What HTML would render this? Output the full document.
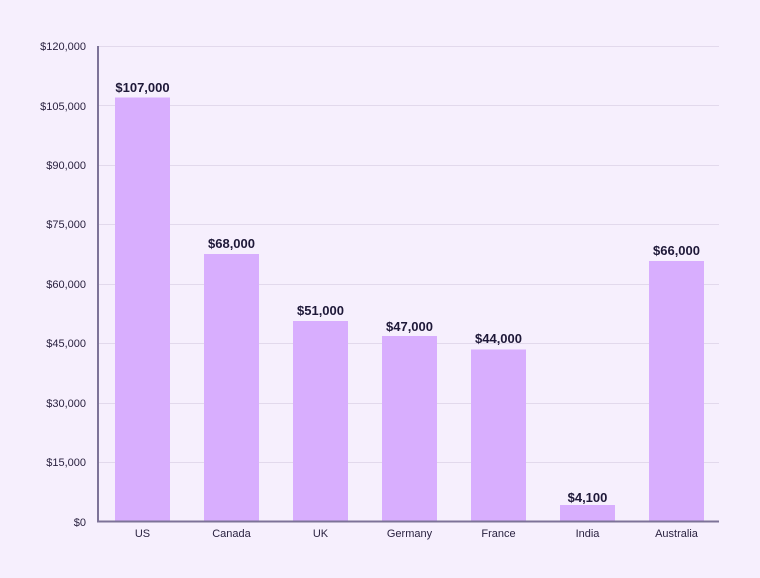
<!DOCTYPE html>
<html><head><style>body{margin:0;background:#f6effd}svg{display:block}</style></head><body>
<svg width="760" height="578" xmlns="http://www.w3.org/2000/svg" font-family="Liberation Sans, sans-serif">
<rect width="760" height="578" fill="#f6effd"/>
<g stroke="#e2d9ec" stroke-width="1">
<line x1="98" x2="719" y1="46.5" y2="46.5"/><line x1="98" x2="719" y1="105.5" y2="105.5"/><line x1="98" x2="719" y1="165.5" y2="165.5"/><line x1="98" x2="719" y1="224.5" y2="224.5"/><line x1="98" x2="719" y1="284.5" y2="284.5"/><line x1="98" x2="719" y1="343.5" y2="343.5"/><line x1="98" x2="719" y1="403.5" y2="403.5"/><line x1="98" x2="719" y1="462.5" y2="462.5"/>
</g>
<g font-size="11" fill="#2a2240" text-anchor="end">
<text x="86" y="50">$120,000</text><text x="86" y="110">$105,000</text><text x="86" y="169">$90,000</text><text x="86" y="228">$75,000</text><text x="86" y="288">$60,000</text><text x="86" y="347">$45,000</text><text x="86" y="407">$30,000</text><text x="86" y="466">$15,000</text><text x="86" y="526">$0</text>
</g>
<g fill="#d8aefe">
<rect x="115" y="97.5" width="55" height="424"/>
<rect x="204" y="254" width="55" height="267.5"/>
<rect x="293" y="321" width="55" height="200.5"/>
<rect x="382" y="336" width="55" height="185.5"/>
<rect x="471" y="349.5" width="55" height="172"/>
<rect x="560" y="505" width="55" height="16.5"/>
<rect x="649" y="261" width="55" height="260.5"/>
</g>
<g stroke="#7d7398" stroke-width="2" fill="none"><polyline points="98,46 98,521.5 719,521.5"/></g>
<g font-size="13" font-weight="bold" fill="#1e1838" text-anchor="middle">
<text x="142.5" y="92">$107,000</text><text x="231.5" y="248">$68,000</text><text x="320.5" y="315">$51,000</text><text x="409.5" y="331">$47,000</text><text x="498.5" y="343">$44,000</text><text x="587.5" y="502">$4,100</text><text x="676.5" y="255">$66,000</text>
</g>
<g font-size="11" fill="#2a2240" text-anchor="middle">
<text x="142.5" y="537">US</text><text x="231.5" y="537">Canada</text><text x="320.5" y="537">UK</text><text x="409.5" y="537">Germany</text><text x="498.5" y="537">France</text><text x="587.5" y="537">India</text><text x="676.5" y="537">Australia</text>
</g>
</svg>
</body></html>
